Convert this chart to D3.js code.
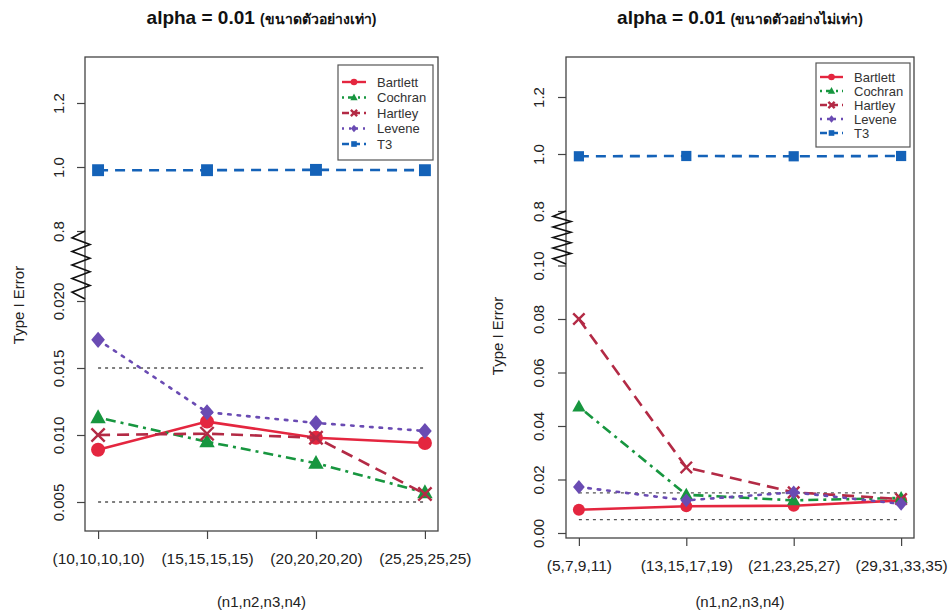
<!DOCTYPE html>
<html><head><meta charset="utf-8">
<script src="https://cdn.jsdelivr.net/npm/d3@7"></script>
<style>body{margin:0;background:#fff}svg{display:block;font-family:"Liberation Sans",Arial,"Noto Sans","DejaVu Sans",sans-serif}</style>
</head><body>
<script>
// ---------- data ----------
const seriesNames = ["Bartlett","Cochran","Hartley","Levene","T3"];
const categoriesEqual = ["(10,10,10,10)","(15,15,15,15)","(20,20,20,20)","(25,25,25,25)"];
const categoriesUnequal = ["(5,7,9,11)","(13,15,17,19)","(21,23,25,27)","(29,31,33,35)"];

const bartlettEq = [0.0089, 0.0110, 0.0098, 0.0094];
const cochranEq  = [0.0113, 0.0095, 0.0079, 0.0057];
const hartleyEq  = [0.0100, 0.0101, 0.0098, 0.0056];
const leveneEq   = [0.0171, 0.0117, 0.0109, 0.0103];
const t3Eq       = [0.990, 0.990, 0.991, 0.990];

const bartlettUn = [0.0087, 0.0100, 0.0102, 0.0122];
const cochranUn  = [0.0472, 0.0143, 0.0122, 0.0131];
const hartleyUn  = [0.0800, 0.0245, 0.0152, 0.0127];
const leveneUn   = [0.0172, 0.0122, 0.0152, 0.0109];
const t3Un       = [0.992, 0.993, 0.992, 0.993];

const refLines = [0.005, 0.015];

const eqLowTicks = [0.005, 0.010, 0.015, 0.020];
const eqLowLabels = ["0.005","0.010","0.015","0.020"];
const unLowTicks = [0.00, 0.02, 0.04, 0.06, 0.08, 0.10];
const unLowLabels = ["0.00","0.02","0.04","0.06","0.08","0.10"];
const highTicks = [0.8, 1.0, 1.2];
const highLabels = ["0.8","1.0","1.2"];

const titleMain = "alpha = 0.01";
const titleEq = "(ขนาดตัวอย่างเท่า)";
const titleUn = "(ขนาดตัวอย่างไม่เท่า)";
const yTitle = "Type I Error";
const xTitle = "(n1,n2,n3,n4)";

// ---------- styles ----------
const styles = {
  Bartlett: {color:"#e4263f", dash:null, marker:"circle"},
  Cochran:  {color:"#17963f", dash:"3,5,10,5", marker:"triangle"},
  Hartley:  {color:"#b32a45", dash:"12,7", marker:"x"},
  Levene:   {color:"#6a4bb3", dash:"2.5,7", marker:"diamond"},
  T3:       {color:"#1462b8", dash:"10,7", marker:"square"}
};

const W = 952, H = 616;
const svg = d3.select("body").append("svg").attr("width", W).attr("height", H);
svg.append("rect").attr("width", W).attr("height", H).attr("fill", "#fff");

function marker(g, type, x, y, s, color) {
  if (type === "circle") {
    g.append("circle").attr("cx", x).attr("cy", y).attr("r", s).attr("fill", color);
  } else if (type === "triangle") {
    const h = s * 1.9;
    g.append("path").attr("d", `M${x},${y - h*0.62}L${x + h*0.58},${y + h*0.42}L${x - h*0.58},${y + h*0.42}Z`).attr("fill", color);
  } else if (type === "x") {
    const a = s * 0.95;
    g.append("path").attr("d", `M${x-a},${y-a}L${x+a},${y+a}M${x-a},${y+a}L${x+a},${y-a}`)
      .attr("stroke", color).attr("stroke-width", 2.4).attr("fill", "none");
  } else if (type === "diamond") {
    const a = s * 1.15;
    g.append("path").attr("d", `M${x},${y-a}L${x+a*0.85},${y}L${x},${y+a}L${x-a*0.85},${y}Z`).attr("fill", color);
  } else if (type === "square") {
    const a = s * 0.85;
    g.append("rect").attr("x", x - a).attr("y", y - a).attr("width", 2*a).attr("height", 2*a).attr("fill", color);
  }
}

function panel(cfg) {
  const g = svg.append("g");
  const x = d3.scaleLinear().domain([0.88, 4.12]).range([cfg.x0, cfg.x1]);
  const yLow = d3.scaleLinear().domain(cfg.lowDomain).range(cfg.lowRange);
  const yHigh = d3.scaleLinear().domain(cfg.highDomain).range(cfg.highRange);
  const y = v => v > 0.5 ? yHigh(v) : yLow(v);

  // title
  const t = g.append("text").attr("x", (cfg.x0 + cfg.x1) / 2).attr("y", 24)
    .attr("text-anchor", "middle").attr("font-weight", "bold").attr("fill", "#111");
  t.append("tspan").attr("font-size", 19).text(titleMain + " ");
  t.append("tspan").attr("font-size", 14).text(cfg.sub);

  // reference lines
  refLines.forEach(r => {
    g.append("line").attr("x1", x(1)).attr("x2", x(4)).attr("y1", yLow(r)).attr("y2", yLow(r))
      .attr("stroke", "#555").attr("stroke-width", 1.3).attr("stroke-dasharray", "3,4");
  });

  // series
  cfg.data.forEach((vals, i) => {
    const name = seriesNames[i], st = styles[name];
    const line = d3.line().x((d, j) => x(j + 1)).y(d => y(d));
    g.append("path").attr("d", line(vals)).attr("fill", "none").attr("stroke", st.color)
      .attr("stroke-width", 2.6).attr("stroke-dasharray", st.dash)
      .attr("stroke-linecap", name === "Levene" ? "round" : "butt");
    vals.forEach((v, j) => marker(g, st.marker, x(j + 1), y(v), cfg.ms, st.color));
  });

  // box
  g.append("rect").attr("x", cfg.x0).attr("y", cfg.y0).attr("width", cfg.x1 - cfg.x0).attr("height", cfg.y1 - cfg.y0)
    .attr("fill", "none").attr("stroke", "#444").attr("stroke-width", 1.3);

  // x axis
  const xa = g.append("g").attr("transform", `translate(0,${cfg.y1})`)
    .call(d3.axisBottom(x).tickValues([1,2,3,4]).tickFormat((d) => cfg.cats[d - 1]).tickSize(8).tickPadding(14));
  xa.select(".domain").remove();
  xa.selectAll("line").attr("stroke", "#444").attr("stroke-width", 1.2);
  xa.selectAll("text").attr("font-size", 15.5).attr("fill", "#222").attr("font-family", "inherit");

  // y axis (low + high), labels rotated
  function yAxis(scale, ticks, labels) {
    const a = g.append("g").attr("transform", `translate(${cfg.x0},0)`)
      .call(d3.axisLeft(scale).tickValues(ticks).tickFormat((d, i) => labels[i]).tickSize(8));
    a.select(".domain").remove();
    a.selectAll("line").attr("stroke", "#444").attr("stroke-width", 1.2);
    a.selectAll("text").attr("font-size", 15).attr("fill", "#222").attr("font-family", "inherit")
      .attr("text-anchor", "middle").attr("x", null).attr("dy", null)
      .attr("transform", `translate(${cfg.lblX - cfg.x0},0) rotate(-90)`);
  }
  yAxis(yLow, cfg.lowTicks, cfg.lowLabels);
  yAxis(yHigh, highTicks, highLabels);

  // zigzag break
  const zz = [];
  const zTop = cfg.breakTop, zBot = cfg.breakBot, n = 9;
  zz.push([cfg.x0, zTop]);
  for (let k = 1; k <= n; k++) {
    const yy = zTop + (zBot - zTop) * k / (n + 1);
    zz.push([k % 2 ? cfg.x0 - 13 : cfg.x0 + 5, yy]);
  }
  zz.push([cfg.x0, zBot]);
  g.append("path").attr("d", d3.line()(zz)).attr("fill", "none").attr("stroke", "#111").attr("stroke-width", 1.6);

  // axis titles
  g.append("text").attr("transform", `translate(${cfg.ytX},${cfg.ytY}) rotate(-90)`)
    .attr("text-anchor", "middle").attr("font-size", 15).attr("fill", "#222").text(yTitle);
  g.append("text").attr("x", (cfg.x0 + cfg.x1) / 2).attr("y", 607)
    .attr("text-anchor", "middle").attr("font-size", 15).attr("fill", "#222").text(xTitle);

  // legend
  const L = cfg.leg;
  g.append("rect").attr("x", L.x0).attr("y", L.y0).attr("width", L.x1 - L.x0).attr("height", L.y1 - L.y0)
    .attr("fill", "#fff").attr("stroke", "#555").attr("stroke-width", 1.2);
  seriesNames.forEach((name, i) => {
    const st = styles[name];
    const yy = L.first + i * L.step;
    g.append("line").attr("x1", L.lx0).attr("x2", L.lx1).attr("y1", yy).attr("y2", yy)
      .attr("stroke", st.color).attr("stroke-width", 2.4).attr("stroke-dasharray", st.dash ? (name === "Levene" ? "2,5" : name === "Cochran" ? "2,4,6,4" : "7,4") : null);
    marker(g, st.marker, (L.lx0 + L.lx1) / 2, yy, 3.3, st.color);
    g.append("text").attr("x", L.tx).attr("y", yy + 4.5).attr("font-size", 13).attr("fill", "#333").text(name);
  });
}

panel({
  sub: titleEq, cats: categoriesEqual,
  data: [bartlettEq, cochranEq, hartleyEq, leveneEq, t3Eq],
  x0: 85, x1: 438, y0: 57, y1: 531,
  lowDomain: [0.005, 0.020], lowRange: [502, 301],
  highDomain: [1.0, 1.2], highRange: [167, 103],
  lowTicks: eqLowTicks, lowLabels: eqLowLabels,
  breakTop: 231, breakBot: 299,
  lblX: 64, ytX: 24, ytY: 305, ms: 7,
  leg: {x0: 338, x1: 433, y0: 65, y1: 160, first: 82, step: 15.5, lx0: 342, lx1: 366, tx: 377}
});

panel({
  sub: titleUn, cats: categoriesUnequal,
  data: [bartlettUn, cochranUn, hartleyUn, leveneUn, t3Un],
  x0: 566, x1: 914, y0: 57, y1: 538,
  lowDomain: [0.0, 0.08], lowRange: [533, 319],
  highDomain: [1.0, 1.2], highRange: [154, 97],
  lowTicks: unLowTicks, lowLabels: unLowLabels,
  breakTop: 211, breakBot: 264,
  lblX: 544, ytX: 503, ytY: 336, ms: 6,
  leg: {x0: 816, x1: 910, y0: 63, y1: 147, first: 77, step: 14, lx0: 820, lx1: 843, tx: 854}
});
</script>
</body></html>
